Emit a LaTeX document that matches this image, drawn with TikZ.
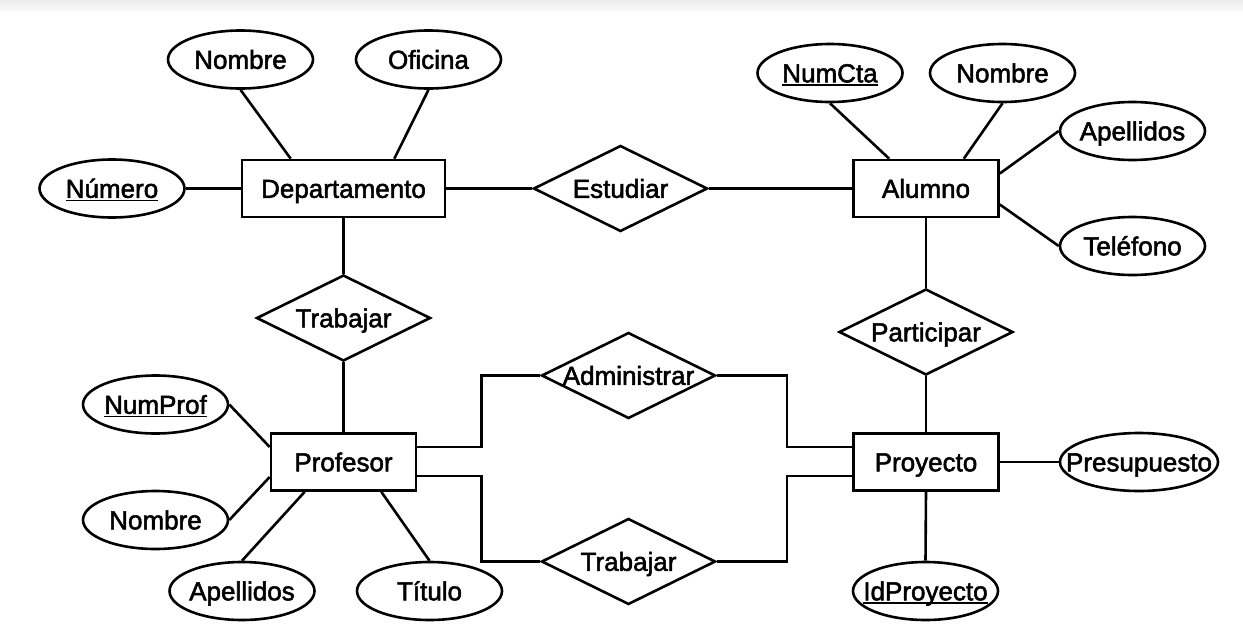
\documentclass[tikz,border=0pt]{standalone}
\usepackage{fontspec}
\setmainfont{Liberation Sans}[FakeBold=2]
\newfontfamily\erfont{Liberation Sans}[FakeBold=2]
\usetikzlibrary{shapes.geometric}
\newcommand\zw[1]{\makebox[0pt]{#1}}
\newcommand\ulk[1]{\makebox[0pt]{\sbox0{#1}\rlap{\rule[-3.5pt]{\wd0}{1.5pt}}\usebox0}}
\tikzset{
  er/.style={font=\erfont\fontsize{26}{30}\selectfont, text height=18.6pt, text depth=0pt, line width=2.6pt, draw=black, fill=white, inner sep=0pt},
  ent/.style={er, rectangle, minimum width=145pt, minimum height=57pt},
  attr/.style={er, ellipse, minimum width=145pt, minimum height=58pt},
  rel/.style={er, diamond, minimum width=174pt, minimum height=86pt},
  lab/.style={font=\erfont\fontsize{26}{30}\selectfont, text height=18.6pt, text depth=0pt, inner sep=0pt},
  conn/.style={line width=2.6pt}
}
\begin{document}
\begin{tikzpicture}[x=1pt,y=-1pt]
\useasboundingbox (0,0) rectangle (1243,638);
\fill[top color=black!8, bottom color=white, draw=none] (0,0) rectangle (1243,14);
% entities
\node[ent, minimum width=203pt] (dept) at (343.5,188.5) {\zw{Departamento}};
\node[ent] (alu) at (926,188.5) {\zw{Alumno}};
\node[ent] (prof) at (343.5,462) {\zw{Profesor}};
\node[ent] (proy) at (926,462) {\zw{Proyecto}};
% relations
\node[rel, label={[lab]center:Estudiar}] (est) at (620.5,188.5) {};
\node[rel, label={[lab]center:Trabajar}] (trab1) at (343.5,318) {};
\node[rel, label={[lab]center:Participar}] (part) at (926,332) {};
\node[rel, label={[lab]center:Administrar}] (adm) at (628.5,375.5) {};
\node[rel, label={[lab]center:Trabajar}] (trab2) at (628.5,561.5) {};
% attributes
\node[attr] (nom1) at (240.5,59.5) {\zw{Nombre}};
\node[attr] (ofi) at (428.5,59.5) {\zw{Oficina}};
\node[attr] (num) at (112,188.5) {\ulk{Número}};
\node[attr] (numcta) at (830,73) {\ulk{NumCta}};
\node[attr] (nom2) at (1002.5,73) {\zw{Nombre}};
\node[attr] (ape1) at (1132.5,131) {\zw{Apellidos}};
\node[attr] (tel) at (1132.5,246) {\zw{Teléfono}};
\node[attr] (numprof) at (155.5,404.5) {\ulk{NumProf}};
\node[attr] (nom3) at (155.5,520) {\zw{Nombre}};
\node[attr] (ape2) at (242,591) {\zw{Apellidos}};
\node[attr] (tit) at (429.5,591) {\zw{Título}};
\node[attr, minimum width=158pt] (pres) at (1139,462) {\zw{Presupuesto}};
\node[attr] (idp) at (925.5,591) {\ulk{IdProyecto}};
% connectors
\draw[conn] (nom1.south) -- ([xshift=50pt]dept.north west);
\draw[conn] (ofi.south) -- ([xshift=-52pt]dept.north east);
\draw[conn] (num.east) -- (dept.west);
\draw[conn] (dept.east) -- (est.west);
\draw[conn] (est.east) -- (alu.west);
\draw[conn] (numcta.south) -- ([xshift=37pt]alu.north west);
\draw[conn] (nom2.south) -- ([xshift=-36pt]alu.north east);
\draw[conn] (ape1.west) -- ([yshift=15pt]alu.east);
\draw[conn] (tel.west) -- ([yshift=-16pt]alu.east);
\draw[conn] (dept.south) -- (trab1.north);
\draw[conn] (trab1.south) -- (prof.north);
\draw[conn] (alu.south) -- (part.north);
\draw[conn] (part.south) -- (proy.north);
\draw[conn] (proy.east) -- (pres.west);
\draw[conn] (proy.south) -- (idp.north);
\draw[conn] (numprof.east) -- ([yshift=15pt]prof.west);
\draw[conn] (nom3.east) -- ([yshift=-15pt]prof.west);
\draw[conn] (ape2.north) -- ([xshift=35pt]prof.south west);
\draw[conn] (tit.north) -- ([xshift=-36pt]prof.south east);
\draw[conn] ([yshift=15pt]prof.east) -- +(64pt,0) |- (adm.west);
\draw[conn] (adm.east) -- +(70pt,0) |- ([yshift=15pt]proy.west);
\draw[conn] ([yshift=-14pt]prof.east) -- +(64pt,0) |- (trab2.west);
\draw[conn] (trab2.east) -- +(70pt,0) |- ([yshift=-14pt]proy.west);
\end{tikzpicture}
\end{document}
